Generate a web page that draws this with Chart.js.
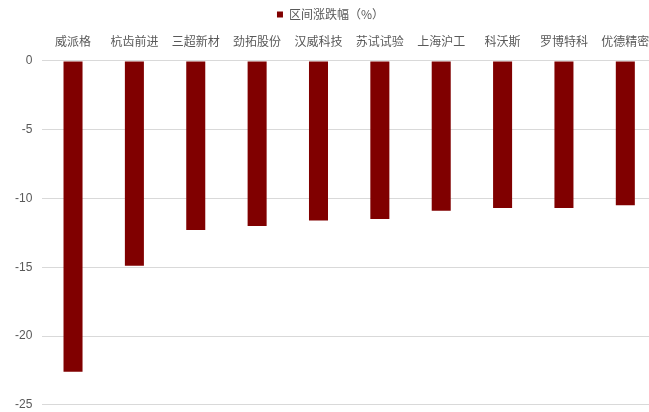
<!DOCTYPE html>
<html>
<head>
<meta charset="utf-8">
<script src="https://cdn.jsdelivr.net/npm/chart.js@4/dist/chart.umd.min.js"></script>
<style>
    html, body { margin: 0; padding: 0; background: #fff; overflow: hidden; }
    #wrap { width: 656px; height: 422px; position: relative; }
</style>
</head>
<body>
<div id="wrap"><canvas id="chart"></canvas></div>
<script>
const categories = ['威派格', '杭齿前进', '三超新材', '劲拓股份', '汉威科技', '苏试试验', '上海沪工', '科沃斯', '罗博特科', '优德精密'];
const changePct = [-22.6, -14.9, -12.3, -12.0, -11.6, -11.5, -10.9, -10.7, -10.7, -10.5];
const yTicks = [0, -5, -10, -15, -20, -25];

const grey = '#595959';
const cjk = '"Noto Sans CJK SC", "Noto Sans", sans-serif';

new Chart(document.getElementById('chart'), {
    type: 'bar',
    data: {
        labels: categories,
        datasets: [{
            label: '区间涨跌幅（%）',
            data: changePct,
            backgroundColor: '#800000',
            borderWidth: 0,
            barPercentage: 0.62,
            categoryPercentage: 0.5
        }]
    },
    options: {
        responsive: true,
        maintainAspectRatio: false,
        animation: false,
        layout: { padding: { left: 5, right: 0, top: -4, bottom: 0 } },
        plugins: {
            legend: {
                position: 'top',
                labels: {
                    boxWidth: 6,
                    boxHeight: 6,
                    color: grey,
                    padding: 12.5,
                    font: { family: cjk, size: 12 }
                }
            },
            tooltip: { enabled: false }
        },
        scales: {
            x: {
                position: 'top',
                grid: { display: false },
                border: { display: false },
                ticks: {
                    color: grey,
                    padding: 4,
                    maxRotation: 0,
                    autoSkip: false,
                    font: { family: cjk, size: 12 }
                }
            },
            y: {
                min: -25,
                max: 0,
                afterBuildTicks: axis => { axis.ticks = yTicks.map(v => ({ value: v })); },
                grid: { color: '#d9d9d9', drawTicks: false },
                border: { display: false },
                ticks: {
                    color: grey,
                    padding: 10,
                    font: { family: '"Liberation Sans", Arial, sans-serif', size: 12 }
                }
            }
        }
    }
});
</script>
</body>
</html>
